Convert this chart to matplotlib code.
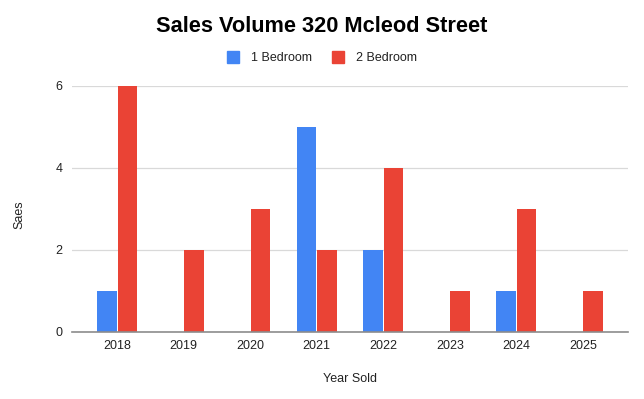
import numpy as np
import matplotlib as mpl
import matplotlib.pyplot as plt
from matplotlib.lines import Line2D

mpl.rcParams.update({
    "font.family": ["Liberation Sans", "DejaVu Sans"],
    "axes.unicode_minus": False,
})

# ===== DATA =====
years = ["2018", "2019", "2020", "2021", "2022", "2023", "2024", "2025"]
one_bed = [1, 0, 0, 5, 2, 0, 1, 0]
two_bed = [6, 2, 3, 2, 4, 1, 3, 1]
y_ticks = [0, 2, 4, 6]

CLR_1 = "#4285F4"
CLR_2 = "#EA4335"
TXT = "#222222"

# ===== PLOT =====
fig = plt.figure(figsize=(6.44, 3.99), dpi=100)
ax = fig.add_axes([72 / 644, 1 - 332 / 399, 556 / 644, 246 / 399])

x = np.arange(len(years))
w = 0.29
off = 0.155
ax.bar(x - off, one_bed, w, color=CLR_1, zorder=3)
ax.bar(x + off, two_bed, w, color=CLR_2, zorder=3)

ax.set_xlim(-0.68, len(years) - 0.32)
ax.set_ylim(0, 6)
ax.set_xticks(x)
ax.set_xticklabels(years)
ax.set_yticks(y_ticks)
ax.tick_params(axis="both", length=0, labelsize=9, colors=TXT)
ax.tick_params(axis="x", pad=6)
ax.tick_params(axis="y", pad=7)
ax.grid(axis="y", color="#d9d9d9", lw=0.9, zorder=0)

for s in ["top", "right", "left"]:
    ax.spines[s].set_visible(False)
ax.spines["bottom"].set_color("#8c8c8c")
ax.spines["bottom"].set_linewidth(1.2)
ax.spines["bottom"].set_zorder(4)

ax.set_xlabel("Year Sold", fontsize=9, color=TXT, labelpad=15)
ax.set_ylabel("Saes", fontsize=9, color=TXT)
ax.yaxis.set_label_coords(-(72 - 25) / 556, (332 - 215) / 246)

fig.text(0.5, 1 - 27 / 399, "Sales Volume 320 Mcleod Street", ha="center",
         va="center", fontsize=15.7, fontweight="bold", color="#000000")

handles = [Line2D([], [], ls="none", marker="s", ms=9, color=CLR_1),
           Line2D([], [], ls="none", marker="s", ms=9, color=CLR_2)]
fig.legend(handles, ["1 Bedroom", "2 Bedroom"], loc="center",
           bbox_to_anchor=(0.495, 1 - 58 / 399), ncol=2, frameon=False,
           fontsize=9, handletextpad=0.4, columnspacing=1.1,
           labelcolor=TXT)

fig.savefig("out.png", dpi=100)
